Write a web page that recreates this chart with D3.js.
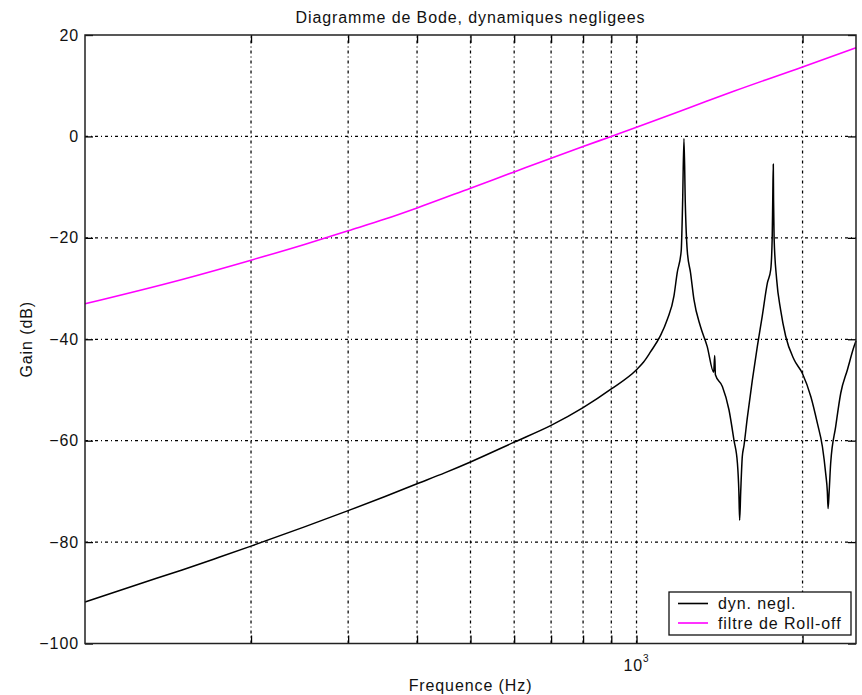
<!DOCTYPE html>
<html>
<head>
<meta charset="utf-8">
<script src="https://cdn.jsdelivr.net/npm/d3@7"></script>
<style>
  html, body { margin: 0; padding: 0; background: #fff; }
  svg { display: block; font-family: "Liberation Sans", Arial, Helvetica, sans-serif; }
  svg text { letter-spacing: 0.9px; }
  .grid line { stroke: #000; stroke-width: 1.25; stroke-dasharray: 3,3,1,3; }
  .axis path { display: none; }
  .axis line { stroke: #000; stroke-width: 1.3; }
  .axis text { font-size: 16px; fill: #111; }
</style>
</head>
<body>
<svg id="chart" width="862" height="695"></svg>
<script>
// Frequency response, dynamics neglected (black) and roll-off filter (magenta)
const freqDyn = [100, 125, 150, 175, 200, 250, 300, 350, 400, 450, 500, 600, 700, 800, 900, 1000,
  1030, 1060, 1105, 1137, 1169, 1185, 1205, 1212, 1219, 1226, 1236, 1253, 1271, 1306, 1343,
  1380, 1386, 1390, 1431, 1471, 1502, 1524, 1533, 1538, 1545, 1555, 1566, 1588, 1622,
  1656, 1690, 1727, 1751, 1762, 1766, 1770, 1772, 1776, 1795, 1825, 1864, 1930, 1998,
  2070, 2128, 2173, 2203, 2218, 2225, 2235, 2249, 2297, 2346, 2412, 2480, 2500];
const gainDyn = [-91.8, -88.3, -85.5, -83.0, -80.8, -77.0, -73.8, -71.0, -68.5, -66.3, -64.2, -60.3, -57.0, -53.5, -49.8, -46.0,
  -44.5, -42.5, -39.3, -36.1, -31.5, -26.9, -22.6, -13.4, -0.4, -13.4, -22.6, -26.9, -32.2, -37.5, -41.4,
  -46.5, -43.2, -47.0, -49.3, -53.9, -59.9, -64.5, -70.0, -75.7, -70.0, -63.2, -61.0, -55.5, -48.0,
  -41.4, -35.5, -28.9, -26.3, -20.0, -12.5, -5.5, -12.5, -20.0, -28.2, -34.2, -39.4, -44.0, -46.7,
  -51.3, -56.6, -61.2, -66.5, -70.0, -73.4, -70.0, -64.5, -57.2, -50.6, -46.0, -41.4, -40.3];

const freqRoll = [100, 150, 200, 250, 300, 350, 400, 500, 600, 700, 800, 900, 1000, 1250, 1500, 2000, 2500];
const gainRoll = [-33.0, -28.2, -24.4, -21.3, -18.6, -16.3, -14.1, -10.2, -7.0, -4.3, -2.0, 0.0, 1.8, 5.7, 8.9, 13.7, 17.5];

const xGrid = [200, 300, 400, 500, 600, 700, 800, 900, 1000, 2000];
const xMajor = [1000];
const yTicks = [-100, -80, -60, -40, -20, 0, 20];
const yGrid = [-80, -60, -40, -20, 0];

const seriesNames = ["dyn. negl.", "filtre de Roll-off"];
const seriesColors = ["#000000", "#ff00ff"];

const titleText = "Diagramme de Bode, dynamiques negligees";
const xLabel = "Frequence (Hz)";
const yLabel = "Gain (dB)";

const W = 862, H = 695;
const m = { left: 85, right: 6, top: 35, bottom: 51.5 };
const svg = d3.select("#chart");

const x = d3.scaleLog().domain([100, 2500]).range([m.left, W - m.right]);
const y = d3.scaleLinear().domain([-100, 20]).range([H - m.bottom, m.top]);
const [x0, x1] = x.range();
const [y0, y1] = y.range();

// dotted grid
const grid = svg.append("g").attr("class", "grid");
grid.selectAll("line.v").data(xGrid).join("line").attr("class", "v")
  .attr("x1", d => x(d)).attr("x2", d => x(d))
  .attr("y1", y0).attr("y2", y1);
grid.selectAll("line.h").data(yGrid).join("line").attr("class", "h")
  .attr("x1", x0).attr("x2", x1)
  .attr("y1", d => y(d)).attr("y2", d => y(d));

// axes with inward ticks on all four sides
svg.append("g").attr("class", "axis")
  .attr("transform", `translate(${x0},0)`)
  .call(d3.axisLeft(y).tickValues(yTicks).tickSize(-8).tickPadding(6)
    .tickFormat(d3.format("d")));
svg.append("g").attr("class", "axis")
  .attr("transform", `translate(${x1},0)`)
  .call(d3.axisRight(y).tickValues(yTicks).tickSize(-8).tickFormat(""));
svg.append("g").attr("class", "axis")
  .attr("transform", `translate(0,${y0})`)
  .call(d3.axisBottom(x).tickValues(xGrid).tickSize(-8).tickFormat(""));
svg.append("g").attr("class", "axis")
  .attr("transform", `translate(0,${y1})`)
  .call(d3.axisTop(x).tickValues(xGrid).tickSize(-8).tickFormat(""));

// decade label as 10 with superscript exponent
const decLab = svg.append("g").selectAll("text").data(xMajor).join("text")
  .attr("x", d => x(d)).attr("y", y0 + 27)
  .attr("text-anchor", "middle").attr("font-size", 16).attr("fill", "#111");
decLab.append("tspan").text("10");
decLab.append("tspan").attr("dy", -9).attr("font-size", 10)
  .text(d => Math.round(Math.log10(d)));

// curves
const line = d3.line().x(d => x(d[0])).y(d => y(d[1])).curve(d3.curveMonotoneX);
const series = [d3.zip(freqDyn, gainDyn), d3.zip(freqRoll, gainRoll)];
svg.append("g").selectAll("path").data(series).join("path")
  .attr("d", line)
  .attr("fill", "none")
  .attr("stroke", (d, i) => seriesColors[i])
  .attr("stroke-width", (d, i) => i === 0 ? 1.5 : 1.6)
  .attr("stroke-linejoin", "miter");

// frame
svg.append("rect")
  .attr("x", x0).attr("y", y1).attr("width", x1 - x0).attr("height", y0 - y1)
  .attr("fill", "none").attr("stroke", "#222").attr("stroke-width", 1.5);

// legend
const lg = svg.append("g").attr("transform", "translate(669,592)");
lg.append("rect").attr("width", 182).attr("height", 43)
  .attr("fill", "#fff").attr("stroke", "#111").attr("stroke-width", 1.3);
const items = lg.selectAll("g").data(seriesNames).join("g")
  .attr("transform", (d, i) => `translate(0,${11.5 + i * 19.5})`);
items.append("line").attr("x1", 9).attr("x2", 39)
  .attr("stroke", (d, i) => seriesColors[i]).attr("stroke-width", 1.6);
items.append("text").attr("x", 49).attr("y", 5.5)
  .attr("font-size", 16).attr("fill", "#111").text(d => d);

// titles
svg.append("text").attr("x", (x0 + x1) / 2).attr("y", 23)
  .attr("text-anchor", "middle").attr("font-size", 16).attr("fill", "#111").text(titleText);
svg.append("text").attr("x", (x0 + x1) / 2).attr("y", 691)
  .attr("text-anchor", "middle").attr("font-size", 16).attr("fill", "#111").text(xLabel);
svg.append("text")
  .attr("transform", `translate(32,${(y0 + y1) / 2}) rotate(-90)`)
  .attr("text-anchor", "middle").attr("font-size", 16).attr("fill", "#111").text(yLabel);
</script>
</body>
</html>
